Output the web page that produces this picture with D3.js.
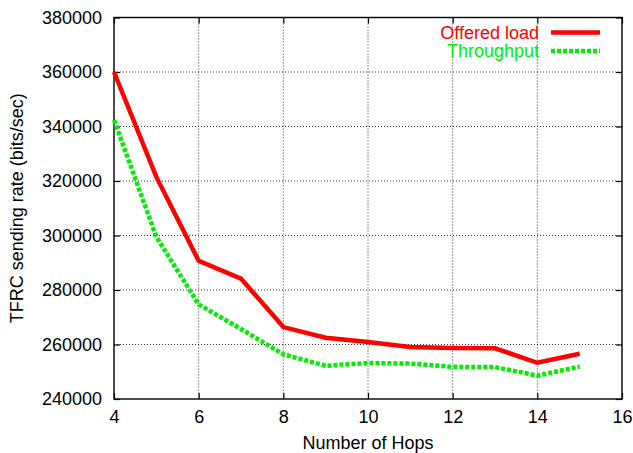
<!DOCTYPE html>
<html>
<head>
<meta charset="utf-8">
<script src="https://cdn.jsdelivr.net/npm/d3@7"></script>
<style>
  html, body { margin: 0; padding: 0; background: #fff; }
  svg { display: block; font-family: "Liberation Sans", Arial, Helvetica, sans-serif; }
</style>
</head>
<body>
<svg id="chart" width="633" height="453"></svg>
<script>
// ============ Data ============
const hops = [4, 5, 6, 7, 8, 9, 10, 11, 12, 13, 14, 15];
const offeredLoad = [360000, 321500, 290700, 284200, 266400, 262500, 260900, 259100, 258700, 258600, 253300, 256600];
const throughput = [342400, 299500, 274700, 265700, 256400, 252200, 253200, 253000, 251800, 251700, 248600, 251900];
const xTicks = [4, 6, 8, 10, 12, 14, 16];
const yTicks = [240000, 260000, 280000, 300000, 320000, 340000, 360000, 380000];
const seriesNames = ["Offered load", "Throughput"];

// ============ Layout ============
const m = { left: 114, right: 622, top: 17.5, bottom: 399 };
const fontSize = 18;
const tickLen = 6;

const svg = d3.select("#chart");

const x = d3.scaleLinear().domain([4, 16]).range([m.left, m.right]);
const y = d3.scaleLinear().domain([240000, 380000]).range([m.bottom, m.top]);

// ---- Grid (dotted) ----
const grid = svg.append("g").attr("class", "grid")
  .attr("stroke", "#000").attr("stroke-width", 0.8).attr("stroke-dasharray", "1,2");
grid.selectAll("line.gx")
  .data(xTicks.slice(1, -1))
  .enter().append("line")
  .attr("x1", d => x(d)).attr("x2", d => x(d))
  .attr("y1", m.top).attr("y2", m.bottom);
grid.selectAll("line.gy")
  .data(yTicks.slice(1, -1))
  .enter().append("line")
  .attr("y1", d => y(d)).attr("y2", d => y(d))
  .attr("x1", m.left).attr("x2", m.right);

// ---- Axes (ticks inward, mirrored) ----
const axB = svg.append("g").attr("transform", `translate(0,${m.bottom})`)
  .call(d3.axisBottom(x).tickValues(xTicks).tickSizeInner(-tickLen).tickSizeOuter(0).tickPadding(11).tickFormat(d3.format("d")));
const axT = svg.append("g").attr("transform", `translate(0,${m.top})`)
  .call(d3.axisTop(x).tickValues(xTicks).tickSizeInner(-tickLen).tickSizeOuter(0).tickFormat(""));
const axL = svg.append("g").attr("transform", `translate(${m.left},0)`)
  .call(d3.axisLeft(y).tickValues(yTicks).tickSizeInner(-tickLen).tickSizeOuter(0).tickPadding(12).tickFormat(d3.format("d")));
const axR = svg.append("g").attr("transform", `translate(${m.right},0)`)
  .call(d3.axisRight(y).tickValues(yTicks).tickSizeInner(-tickLen).tickSizeOuter(0).tickFormat(""));

[axB, axT, axL, axR].forEach(a => {
  a.select(".domain").remove();
  a.selectAll(".tick line").attr("stroke", "#000").attr("stroke-width", 1.2);
  a.selectAll("text")
    .attr("font-family", "'Liberation Sans', Arial, sans-serif")
    .attr("font-size", fontSize).attr("fill", "#000");
});
axB.selectAll("text").attr("dy", "0.71em");

// ---- Frame ----
svg.append("rect")
  .attr("x", m.left).attr("y", m.top)
  .attr("width", m.right - m.left).attr("height", m.bottom - m.top)
  .attr("fill", "none").attr("stroke", "#000").attr("stroke-width", 1.4);

// ---- Axis titles ----
svg.append("text")
  .attr("x", (m.left + m.right) / 2).attr("y", 443)
  .attr("text-anchor", "middle").attr("dy", "0.35em")
  .attr("font-size", fontSize)
  .text("Number of Hops");
svg.append("text")
  .attr("transform", `translate(17,${(m.top + m.bottom) / 2}) rotate(-90)`)
  .attr("text-anchor", "middle").attr("dy", "0.35em")
  .attr("font-size", fontSize)
  .text("TFRC sending rate (bits/sec)");

// ---- Lines ----
const line = d3.line().x(d => x(d[0])).y(d => y(d[1]));
const series = [
  { name: seriesNames[0], values: offeredLoad, color: "#ff0000", dash: null },
  { name: seriesNames[1], values: throughput, color: "#00ee00", dash: "4,2" }
];
series.forEach(s => {
  svg.append("path")
    .datum(hops.map((h, i) => [h, s.values[i]]))
    .attr("d", line)
    .attr("fill", "none")
    .attr("stroke", s.color)
    .attr("stroke-width", 4.5)
    .attr("stroke-linejoin", "miter")
    .attr("stroke-dasharray", s.dash);
});

// ---- Legend ----
const legend = svg.append("g");
series.forEach((s, i) => {
  const ly = 32.5 + i * 18.5;
  legend.append("text")
    .attr("x", 539).attr("y", ly).attr("dy", "0.35em")
    .attr("text-anchor", "end")
    .attr("font-size", fontSize)
    .attr("fill", s.color)
    .text(s.name);
  legend.append("line")
    .attr("x1", 551).attr("x2", 600)
    .attr("y1", ly).attr("y2", ly)
    .attr("stroke", s.color).attr("stroke-width", 4.5)
    .attr("stroke-dasharray", s.dash);
});
</script>
</body>
</html>
